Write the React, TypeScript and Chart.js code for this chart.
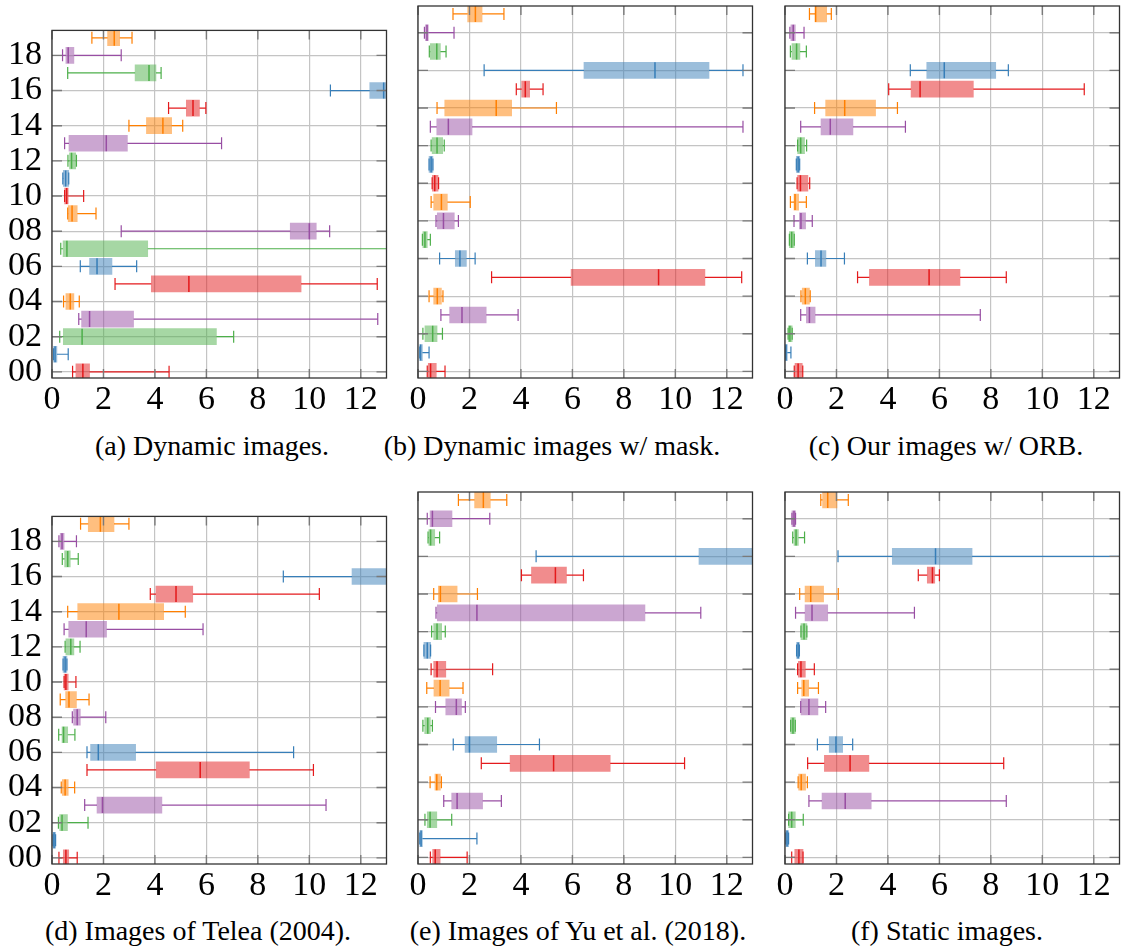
import React, { useEffect, useRef } from "react";
import { Chart, registerables } from "chart.js";

Chart.register(...registerables);

// ---------- data ----------
const categories = ["00","01","02","03","04","05","06","07","08","09","10","11","12","13","14","15","16","17","18","19"];
const yTickLabels = ["00","02","04","06","08","10","12","14","16","18"];
const xTickValues = [0, 2, 4, 6, 8, 10, 12];
const seriesColors = ["#e41a1c", "#377eb8", "#4daf4a", "#984ea3", "#ff7f00"];
const boxFills = ["rgba(228,26,28,0.5)", "rgba(55,126,184,0.5)", "rgba(77,175,74,0.5)", "rgba(152,78,163,0.5)", "rgba(255,127,0,0.5)"];

// (a) Dynamic images.
const aMin = [0.80,0.06,0.30,1.04,0.45,2.45,1.10,0.34,2.69,0.61,0.49,0.42,0.62,0.49,2.99,4.53,10.82,0.61,0.41,1.55];
const aQ1  = [0.93,0.06,0.44,1.15,0.54,3.86,1.46,0.43,9.26,0.63,0.49,0.44,0.68,0.66,3.67,5.22,12.35,3.23,0.54,2.16];
const aMed = [1.20,0.12,1.17,1.46,0.71,5.32,1.75,0.58,10.0,0.78,0.57,0.53,0.76,2.11,4.31,5.48,12.89,3.77,0.63,2.42];
const aQ3  = [1.46,0.19,6.39,3.17,0.85,9.68,2.33,3.72,10.27,0.98,0.63,0.65,0.92,2.93,4.65,5.73,13.6,4.04,0.85,2.63];
const aMax = [4.55,0.63,7.06,12.66,1.06,12.64,3.29,15.0,10.79,1.71,1.23,0.65,0.95,6.59,5.08,5.98,14.5,4.24,2.69,3.11];

// (b) Dynamic images w/ mask.
const bMin = [0.36,0.07,0.19,0.89,0.43,2.86,0.84,0.17,0.70,0.51,0.55,0.43,0.51,0.48,0.74,3.82,2.57,0.44,0.25,1.36];
const bQ1  = [0.40,0.07,0.27,1.23,0.61,5.95,1.45,0.19,0.75,0.61,0.56,0.43,0.55,0.73,1.04,4.03,6.45,0.48,0.29,1.93];
const bMed = [0.49,0.10,0.57,1.71,0.75,9.35,1.63,0.27,0.99,0.91,0.65,0.51,0.74,1.18,3.04,4.17,9.21,0.73,0.35,2.23];
const bQ3  = [0.71,0.17,0.74,2.65,0.91,11.15,1.88,0.36,1.41,1.14,0.78,0.58,0.96,2.10,3.64,4.34,11.31,0.87,0.40,2.49];
const bMax = [1.05,0.43,0.95,3.89,0.97,12.58,2.22,0.48,1.57,2.03,0.80,0.58,1.02,12.63,5.38,4.86,12.63,1.09,1.40,3.34];

// (c) Our images w/ ORB.
const cMin = [0.36,0.01,0.12,0.61,0.62,2.82,0.87,0.17,0.35,0.21,0.47,0.44,0.49,0.61,1.15,4.03,4.87,0.21,0.19,0.95];
const cQ1  = [0.39,0.01,0.13,0.83,0.67,3.28,1.18,0.17,0.56,0.35,0.49,0.44,0.49,1.40,1.58,4.90,5.51,0.27,0.23,1.17];
const cMed = [0.51,0.04,0.19,0.95,0.79,5.60,1.40,0.26,0.62,0.39,0.60,0.51,0.61,1.76,2.32,5.25,6.19,0.45,0.32,1.19];
const cQ3  = [0.67,0.09,0.28,1.17,0.95,6.80,1.59,0.36,0.80,0.53,0.89,0.57,0.76,2.64,3.52,7.32,8.19,0.58,0.40,1.62];
const cMax = [0.69,0.23,0.28,7.59,0.98,8.60,2.31,0.36,1.06,0.83,0.96,0.57,0.84,4.68,4.37,11.63,8.68,0.83,0.74,1.80];

// (d) Images of Telea (2004).
const dMin = [0.27,0.04,0.25,1.27,0.36,1.36,1.36,0.26,0.79,0.32,0.47,0.43,0.51,0.47,0.61,3.82,8.99,0.40,0.27,1.11];
const dQ1  = [0.44,0.04,0.30,1.75,0.40,4.05,1.50,0.39,0.84,0.53,0.47,0.43,0.54,0.65,1.00,4.04,11.66,0.49,0.32,1.41];
const dMed = [0.54,0.08,0.39,1.96,0.51,5.76,1.80,0.45,0.98,0.66,0.54,0.51,0.73,1.33,2.60,4.82,13.5,0.61,0.39,1.88];
const dQ3  = [0.65,0.14,0.60,4.27,0.63,7.67,3.25,0.61,1.10,0.95,0.63,0.58,0.85,2.12,4.34,5.47,14.5,0.71,0.47,2.41];
const dMax = [0.98,0.14,1.40,10.65,0.88,10.16,9.39,0.89,2.09,1.44,0.93,0.58,1.09,5.87,5.18,10.39,16.0,1.02,0.95,2.99];

// (e) Images of Yu et al. (2018).
const eMin = [0.48,0.07,0.27,1.00,0.47,2.46,1.37,0.19,0.68,0.34,0.51,0.23,0.53,0.70,0.61,4.02,4.59,0.39,0.36,1.57];
const eQ1  = [0.57,0.07,0.36,1.31,0.66,3.58,1.83,0.26,1.08,0.62,0.61,0.23,0.61,0.75,0.79,4.41,10.92,0.42,0.47,2.20];
const eMed = [0.67,0.12,0.47,1.52,0.73,5.27,2.00,0.38,1.49,0.86,0.74,0.36,0.74,2.29,0.87,5.34,13.3,0.49,0.56,2.54];
const eQ3  = [0.86,0.17,0.73,2.51,0.87,7.47,3.06,0.48,1.69,1.21,1.08,0.49,0.92,8.82,1.52,5.77,14.0,0.65,1.32,2.81];
const eMax = [1.91,2.29,1.31,3.24,0.91,10.36,4.72,0.56,1.84,1.75,2.90,0.49,1.06,10.99,2.31,6.43,15.0,0.84,2.79,3.45];

// (f) Static images.
const fMin = [0.26,0.03,0.14,0.93,0.51,0.88,1.26,0.22,0.61,0.49,0.49,0.45,0.62,0.41,0.57,5.18,2.06,0.30,0.27,1.39];
const fQ1  = [0.38,0.03,0.14,1.44,0.53,1.53,1.72,0.22,0.62,0.65,0.52,0.45,0.62,0.78,0.78,5.53,4.17,0.35,0.27,1.46];
const fMed = [0.54,0.08,0.26,2.34,0.63,2.53,1.98,0.31,0.93,0.73,0.62,0.51,0.74,1.05,1.00,5.73,5.85,0.43,0.35,1.66];
const fQ3  = [0.70,0.14,0.40,3.35,0.80,3.26,2.24,0.40,1.28,0.92,0.79,0.56,0.85,1.66,1.50,5.82,7.27,0.52,0.41,2.02];
const fMax = [0.70,0.14,0.71,8.60,0.87,8.50,2.63,0.40,1.58,1.30,1.14,0.56,0.85,5.03,2.07,6.00,15.0,0.76,0.41,2.46];

const captions = [
  "(a) Dynamic images.",
  "(b) Dynamic images w/ mask.",
  "(c) Our images w/ ORB.",
  "(d) Images of Telea (2004).",
  "(e) Images of Yu et al. (2018).",
  "(f) Static images.",
];

// ---------- layout ----------
const FONT = "Liberation Serif";
const TICK_SIZE = 34;
const CAPTION_SIZE = 28;
const Y_AXIS_W = 52;
const PAD_TOP = 6;
const X_AXIS_H = 45;
const PLOT_W = 334.5;
const PLOT_H = 372;
const CANVAS_W = 390;
const CANVAS_H = PAD_TOP + PLOT_H + X_AXIS_H;

type Stats = { min: number[]; q1: number[]; med: number[]; q3: number[]; max: number[] };

const boxExtras = {
  id: "boxExtras",
  afterDatasetsDraw(chart: any, _args: any, opts: any) {
    const st: Stats = opts.stats;
    if (!st) return;
    const { ctx, chartArea } = chart;
    const x = chart.scales.x;
    const y = chart.scales.y;
    const px = (v: number) => x.getPixelForValue(v);
    const line = (x1: number, y1: number, x2: number, y2: number) => {
      ctx.beginPath();
      ctx.moveTo(x1, y1);
      ctx.lineTo(x2, y2);
      ctx.stroke();
    };
    ctx.save();
    ctx.beginPath();
    ctx.rect(chartArea.left, chartArea.top, chartArea.right - chartArea.left, chartArea.bottom - chartArea.top);
    ctx.clip();
    categories.forEach((_c, i) => {
      const cy = y.getPixelForValue(i);
      ctx.strokeStyle = seriesColors[i % 5];
      ctx.lineWidth = 1.2;
      line(px(st.min[i]), cy, px(st.q1[i]), cy);
      line(px(st.q3[i]), cy, px(st.max[i]), cy);
      line(px(st.min[i]), cy - 6, px(st.min[i]), cy + 6);
      line(px(st.max[i]), cy - 6, px(st.max[i]), cy + 6);
      ctx.lineWidth = 1.5;
      line(px(st.med[i]), cy - 8, px(st.med[i]), cy + 8);
    });
    ctx.restore();
  },
  afterDraw(chart: any) {
    const { ctx, chartArea } = chart;
    const { left, right, top, bottom } = chartArea;
    const x = chart.scales.x;
    const y = chart.scales.y;
    ctx.save();
    ctx.strokeStyle = "#7a7a7a";
    ctx.lineWidth = 1.4;
    x.ticks.forEach((t: any) => {
      const p = x.getPixelForValue(t.value);
      ctx.beginPath();
      ctx.moveTo(p, top); ctx.lineTo(p, top + 9);
      ctx.moveTo(p, bottom); ctx.lineTo(p, bottom - 9);
      ctx.stroke();
    });
    y.ticks.forEach((t: any) => {
      const p = y.getPixelForValue(t.value);
      ctx.beginPath();
      ctx.moveTo(left, p); ctx.lineTo(left + 10, p);
      ctx.moveTo(right, p); ctx.lineTo(right - 10, p);
      ctx.stroke();
    });
    ctx.strokeStyle = "#333333";
    ctx.lineWidth = 1.3;
    ctx.strokeRect(left, top, right - left, bottom - top);
    ctx.restore();
  },
};

function Panel(props: { stats: Stats; plotLeft: number; plotTop: number; showY: boolean }) {
  const ref = useRef<HTMLCanvasElement | null>(null);
  const { stats, plotLeft, plotTop, showY } = props;
  useEffect(() => {
    if (!ref.current) return;
    const tickFont = { family: FONT, size: TICK_SIZE, style: "normal" as const, weight: "normal" as const, lineHeight: 1.2 };
    const chart = new Chart(ref.current, {
      type: "bar",
      data: {
        labels: categories,
        datasets: [
          {
            data: categories.map((_c, i) => ({ y: i, x: [stats.q1[i], stats.q3[i]] })) as any,
            backgroundColor: categories.map((_c, i) => boxFills[i % 5]),
            borderWidth: 0,
            barThickness: 16,
            clip: 0,
          } as any,
        ],
      },
      options: {
        indexAxis: "y",
        responsive: false,
        animation: false,
        devicePixelRatio: 1,
        layout: { padding: { left: 0, top: PAD_TOP, right: CANVAS_W - Y_AXIS_W - PLOT_W, bottom: 0 } },
        plugins: {
          legend: { display: false },
          tooltip: { enabled: false },
          title: { display: false },
          boxExtras: { stats },
        } as any,
        scales: {
          x: {
            type: "linear",
            offset: false,
            min: 0,
            max: 13,
            afterBuildTicks: (s: any) => { s.ticks = xTickValues.map((v) => ({ value: v })); },
            ticks: {
              autoSkip: false,
              maxRotation: 0,
              padding: 2,
              color: "#000",
              font: tickFont,
            },
            grid: { color: "#c4c4c4", lineWidth: 1.2, drawTicks: false, offset: false },
            border: { display: false },
            afterFit: (s: any) => { s.height = X_AXIS_H; },
          },
          y: {
            type: "linear",
            offset: false,
            min: -0.35,
            max: 19.42,
            afterBuildTicks: (s: any) => { s.ticks = yTickLabels.map((l) => ({ value: Number(l) })); },
            ticks: {
              autoSkip: false,
              display: showY,
              padding: 10,
              color: "#000",
              font: tickFont,
              callback: (v: any) => yTickLabels[yTickLabels.indexOf(String(v).padStart(2, "0"))] ?? "",
            },
            grid: { color: "#c4c4c4", lineWidth: 1.2, drawTicks: false, offset: false },
            border: { display: false },
            afterFit: (s: any) => { s.width = Y_AXIS_W; },
          },
        } as any,
      },
      plugins: [boxExtras as any],
    });
    return () => chart.destroy();
  }, [stats, showY]);
  return (
    <canvas
      ref={ref}
      width={CANVAS_W}
      height={CANVAS_H}
      style={{ position: "absolute", left: plotLeft - Y_AXIS_W, top: plotTop - PAD_TOP, width: CANVAS_W, height: CANVAS_H }}
    />
  );
}

const panelStats: Stats[] = [
  { min: aMin, q1: aQ1, med: aMed, q3: aQ3, max: aMax },
  { min: bMin, q1: bQ1, med: bMed, q3: bQ3, max: bMax },
  { min: cMin, q1: cQ1, med: cMed, q3: cQ3, max: cMax },
  { min: dMin, q1: dQ1, med: dMed, q3: dQ3, max: dMax },
  { min: eMin, q1: eQ1, med: eMed, q3: eQ3, max: eMax },
  { min: fMin, q1: fQ1, med: fMed, q3: fQ3, max: fMax },
];
const plotLefts = [52, 418, 785, 52, 418, 785];
const plotTops = [6, 6, 6, 492, 492, 492];
const captionCenters = [212, 552, 946, 198, 578, 947];
const captionMids = [446, 446, 446, 931, 931, 931];

export default function App() {
  return (
    <div style={{ position: "absolute", left: 0, top: 0, width: 1121, height: 949, overflow: "hidden", background: "#fff" }}>
      {panelStats.map((s, i) => (
        <Panel key={i} stats={s} plotLeft={plotLefts[i]} plotTop={plotTops[i]} showY={i % 3 === 0} />
      ))}
      {captions.map((c, i) => (
        <div
          key={"c" + i}
          style={{
            position: "absolute",
            left: captionCenters[i] - 250,
            width: 500,
            top: captionMids[i] - 17,
            height: 34,
            lineHeight: "34px",
            textAlign: "center",
            fontFamily: FONT,
            fontSize: CAPTION_SIZE,
            color: "#000",
            whiteSpace: "nowrap",
          }}
        >
          {c}
        </div>
      ))}
    </div>
  );
}
